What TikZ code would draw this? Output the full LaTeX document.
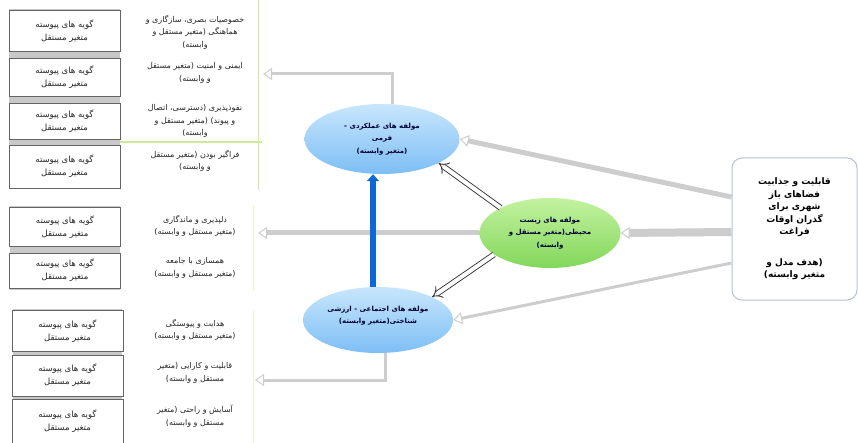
\documentclass[tikz,border=0pt]{standalone}
\usepackage{fontspec}
\newfontfamily\arabicfont[Script=Arabic]{DejaVu Sans}
\TeXXeTstate=1
\usepackage{tikz}
\usetikzlibrary{shapes.geometric,arrows.meta}

\definecolor{skytop}{RGB}{200,230,252}
\definecolor{skybottom}{RGB}{125,190,245}
\definecolor{leaftop}{RGB}{195,242,160}
\definecolor{leafbottom}{RGB}{130,215,90}
\definecolor{linkgray}{RGB}{205,205,205}
\definecolor{arrowblue}{RGB}{10,105,215}
\definecolor{framegray}{RGB}{100,100,100}
\definecolor{bandgray}{RGB}{200,200,200}
\definecolor{edgegreen}{RGB}{205,235,150}
\definecolor{boxedge}{RGB}{175,195,215}

\newcommand{\fatext}[1]{\beginR #1\endR}

\begin{document}
\begin{tikzpicture}[x=1pt, y=-1pt,
            itembox/.style={draw=framegray, fill=white, line width=0.9pt, minimum width=111pt, inner sep=0pt, align=center, font=\arabicfont\fontsize{8.5}{13}\selectfont, text=black!85},
            itemtext/.style={align=center, font=\arabicfont\fontsize{8}{12.5}\selectfont, text=black!85},
            factor/.style={ellipse, inner sep=0pt, align=center, font=\arabicfont\bfseries\fontsize{7}{12.5}\selectfont, text=blue!20!black},
            bluefactor/.style={factor, top color=skytop, bottom color=skybottom},
            greenfactor/.style={factor, top color=leaftop, bottom color=leafbottom},
            graylink/.style={draw=linkgray, -{Triangle[open, length=9pt, width=12pt, line width=1pt]}},
            twinlink/.style={draw=black!80, double=white, double distance=4pt, line width=0.9pt, -{Implies}},
            bluelink/.style={draw=arrowblue, line width=6pt, -{Triangle[length=7pt, width=12pt]}}]
            \useasboundingbox (0,0) rectangle (858,443);

            \draw[edgegreen, line width=1pt] (258,0) -- (258,190);
            \draw[edgegreen, line width=1.5pt] (120,142) -- (262,142);
            \draw[edgegreen!50, line width=0.8pt] (253,205) -- (253,291);
            \draw[edgegreen!50, line width=0.8pt] (253,310) -- (253,443);

            \fill[bandgray] (9,9) rectangle (120,189);
            \fill[bandgray] (10,206) rectangle (120,290);
            \fill[bandgray] (13,309) rectangle (122,443);

            \node[itembox, minimum height=41pt] (B1) at (64.5,31) {\fatext{گویه های پیوسته}\\\fatext{متغیر مستقل}};
            \node[itembox, minimum height=38pt] (B2) at (64.5,77.5) {\fatext{گویه های پیوسته}\\\fatext{متغیر مستقل}};
            \node[itembox, minimum height=36pt] (B3) at (64.5,121) {\fatext{گویه های پیوسته}\\\fatext{متغیر مستقل}};
            \node[itembox, minimum height=43pt] (B4) at (64.5,166.5) {\fatext{گویه های پیوسته}\\\fatext{متغیر مستقل}};
            \node[itembox, minimum height=39pt] (B5) at (65,227) {\fatext{گویه های پیوسته}\\\fatext{متغیر مستقل}};
            \node[itembox, minimum height=35pt] (B6) at (65,270.5) {\fatext{گویه های پیوسته}\\\fatext{متغیر مستقل}};
            \node[itembox, minimum height=41pt] (B7) at (67.5,331) {\fatext{گویه های پیوسته}\\\fatext{متغیر مستقل}};
            \node[itembox, minimum height=41pt] (B8) at (67.5,375.5) {\fatext{گویه های پیوسته}\\\fatext{متغیر مستقل}};
            \node[itembox, minimum height=44pt] (B9) at (67.5,421.5) {\fatext{گویه های پیوسته}\\\fatext{متغیر مستقل}};

            \node[itemtext] (T1) at (195,32) {\fatext{خصوصیات بصری، سازگاری و}\\\fatext{هماهنگی (متغیر مستقل و}\\\fatext{وابسته)}};
            \node[itemtext] (T2) at (195,73) {\fatext{ایمنی و امنیت (متغیر مستقل}\\\fatext{و وابسته)}};
            \node[itemtext] (T3) at (195,121) {\fatext{نفوذپذیری (دسترسی، اتصال}\\\fatext{و پیوند) (متغیر مستقل و}\\\fatext{وابسته)}};
            \node[itemtext] (T4) at (195,161) {\fatext{فراگیر بودن (متغیر مستقل}\\\fatext{و وابسته)}};
            \node[itemtext] (T5) at (195,226) {\fatext{دلپذیری و ماندگاری}\\\fatext{(متغیر مستقل و وابسته)}};
            \node[itemtext] (T6) at (195,268) {\fatext{همسازی با جامعه}\\\fatext{(متغیر مستقل و وابسته)}};
            \node[itemtext] (T7) at (195,330) {\fatext{هدایت و پیوستگی}\\\fatext{(متغیر مستقل و وابسته)}};
            \node[itemtext] (T8) at (195,373) {\fatext{قابلیت و کارایی (متغیر}\\\fatext{مستقل و وابسته)}};
            \node[itemtext] (T9) at (195,416) {\fatext{آسایش و راحتی (متغیر}\\\fatext{مستقل و وابسته)}};

            \node[bluefactor, minimum width=155pt, minimum height=70pt] (E1) at (382,139) {\fatext{مولفه های عملکردی -}\\\fatext{فرمی}\\\fatext{(متغیر وابسته)}};
            \node[greenfactor, minimum width=141pt, minimum height=70pt] (E2) at (550,233) {\fatext{مولفه های زیست}\\\fatext{محیطی(متغیر مستقل و}\\\fatext{وابسته)}};
            \node[bluefactor, minimum width=150pt, minimum height=66pt] (E3) at (378,320) {\fatext{مولفه های اجتماعی - ارزشی}\\\fatext{شناختی(متغیر وابسته)}\\[-2pt]\mbox{}};

            \node[draw=boxedge, line width=1pt, rounded corners=10pt, fill=white, minimum width=125pt, minimum height=142pt, align=center, font=\arabicfont\bfseries\fontsize{9}{12.5}\selectfont] (R) at (794.5,229) {\fatext{قابلیت و جذابیت}\\\fatext{فضاهای باز}\\\fatext{شهری برای}\\\fatext{گذران اوقات}\\\fatext{فراغت}\\[18pt]\fatext{(هدف مدل و}\\\fatext{متغیر وابسته)}};

            \coordinate (U) at (263,74);
            \coordinate (M) at (258,233);
            \coordinate (D) at (255,380);

            \draw[graylink, line width=3pt] ([xshift=10pt]E1.north) |- (U);
            \draw[graylink, line width=5pt] (E2.west) -- (M);
            \draw[graylink, line width=3pt] ([xshift=7pt]E3.south) |- (D);
            \draw[graylink, line width=5pt] ([yshift=32pt]R.west) -- (E1.east);
            \draw[graylink, line width=8pt] ([yshift=-3pt]R.west) -- (E2.east);
            \draw[graylink, line width=3pt] ([yshift=-34pt]R.west) -- (E3.east);

            \draw[bluelink] ([xshift=-5pt]E3.north) -- ([xshift=-5pt]E3.north |- E1.south);
            \draw[twinlink] (E2.153) -- (E1.-23);
            \draw[twinlink] (E2.201) -- (E3.23);

        \end{tikzpicture}
\end{document}
